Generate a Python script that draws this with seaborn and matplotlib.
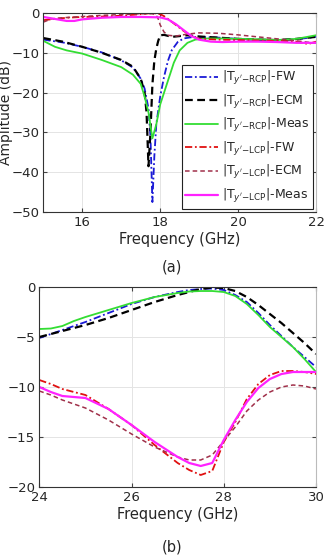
import matplotlib
matplotlib.use('Agg')
import matplotlib.pyplot as plt
import seaborn as sns
import pandas as pd

# ---- panel (a): 15-22 GHz ----
f_a_rcp_fw = [15, 15.5, 16, 16.5, 17, 17.3, 17.5, 17.6, 17.7, 17.75, 17.8, 17.85, 17.9, 18.0,
              18.1, 18.2, 18.3, 18.45, 18.6, 18.8, 19, 19.5, 20, 20.5, 21, 21.5, 22]
a_rcp_fw = [-6.7, -7.4, -8.5, -9.9, -11.9, -13.7, -16.5, -19, -24, -31, -47.5, -36, -28, -21,
            -16, -12, -9.3, -7.3, -6.4, -6.1, -6.0, -6.2, -6.5, -6.7, -6.8, -6.6, -6.0]

f_a_rcp_ecm = [15, 15.5, 16, 16.5, 17, 17.3, 17.5, 17.6, 17.65, 17.7, 17.75, 17.8, 17.85, 17.9,
               17.95, 18.0, 18.1, 18.3, 18.5, 18.7, 19, 19.5, 20, 20.5, 21, 21.5, 22]
a_rcp_ecm = [-6.3, -7.2, -8.5, -10, -11.8, -13.5, -16.5, -20, -25, -38.5, -30, -18, -12, -9,
             -7, -5.6, -5.5, -6.0, -5.8, -5.6, -5.9, -6.2, -6.5, -6.7, -6.8, -6.5, -6.0]

f_a_rcp_meas = [15, 15.3, 15.6, 16, 16.5, 17, 17.3, 17.5, 17.6, 17.7, 17.8, 17.9, 18.0, 18.1,
                18.2, 18.35, 18.5, 18.7, 18.9, 19.2, 19.5, 20, 20.5, 21, 21.5, 22]
a_rcp_meas = [-7, -8.5, -9.4, -10.2, -11.8, -13.6, -15.5, -17.8, -21, -25, -31.5, -28, -23, -20,
              -17, -12.5, -9.4, -7.5, -6.7, -6.4, -6.4, -6.5, -6.6, -6.8, -6.5, -5.6]

f_a_lcp_fw = [15, 15.3, 15.6, 16, 16.5, 17, 17.5, 17.8, 18.0, 18.1, 18.2, 18.4, 18.6, 18.8,
              19, 19.5, 20, 20.5, 21, 21.5, 21.8, 22]
a_lcp_fw = [-1.8, -1.5, -1.2, -1.0, -0.9, -0.7, -0.3, 0.0, -0.3, -0.8, -1.5, -3.0, -4.5, -5.8,
            -6.5, -6.7, -6.8, -6.9, -7.0, -7.2, -7.8, -7.2]

f_a_lcp_ecm = [15, 15.2, 15.5, 16, 16.5, 17, 17.5, 17.8, 17.9, 17.95, 18.0, 18.1, 18.2, 18.4,
               18.7, 19, 19.5, 20, 20.5, 21, 21.5, 22]
a_lcp_ecm = [-2.3, -1.5, -1.2, -0.9, -0.6, -0.4, -0.2, -0.2, -0.6, -1.5, -3.0, -4.8, -5.6, -5.8,
             -5.3, -5.0, -5.1, -5.5, -6.0, -6.5, -7.0, -7.6]

f_a_lcp_meas = [15, 15.3, 15.6, 15.8, 16, 16.5, 17, 17.5, 18.0, 18.2, 18.4, 18.6, 18.8, 19.0,
                19.3, 19.6, 20, 20.5, 21, 21.5, 22]
a_lcp_meas = [-1.0, -1.5, -2.0, -2.0, -1.6, -1.2, -1.0, -1.0, -1.1, -1.6, -2.8, -4.3, -5.8, -6.7,
              -7.2, -7.3, -7.2, -7.2, -7.3, -7.5, -7.5]

# ---- panel (b): 24-30 GHz ----
f_b = [24, 24.25, 24.5, 24.75, 25, 25.5, 26, 26.5, 27, 27.25, 27.5, 27.75, 28, 28.25, 28.5,
       28.75, 29, 29.25, 29.5, 29.75, 30]
b_rcp_fw = [-5.1, -4.7, -4.3, -3.9, -3.5, -2.6, -1.7, -1.0, -0.5, -0.3, -0.2, -0.15, -0.3, -0.8,
            -1.5, -2.6, -3.8, -4.9, -6.0, -7.0, -8.0]
b_rcp_ecm = [-5.0, -4.7, -4.4, -4.1, -3.8, -3.1, -2.3, -1.5, -0.8, -0.5, -0.2, -0.05, -0.1, -0.4,
             -1.0, -1.8, -2.7, -3.6, -4.6, -5.6, -6.7]
b_rcp_meas = [-4.2, -4.15, -3.9, -3.4, -3.0, -2.3, -1.6, -1.0, -0.6, -0.45, -0.4, -0.4, -0.5, -0.9,
              -1.7, -2.8, -4.0, -5.0, -6.0, -7.2, -8.5]
b_lcp_fw = [-9.3, -9.7, -10.2, -10.5, -10.8, -12.2, -13.8, -15.8, -17.6, -18.3, -18.8, -18.4, -15.5,
            -13.5, -11.2, -9.7, -8.8, -8.4, -8.4, -8.5, -8.7]
b_lcp_ecm = [-10.4, -10.8, -11.3, -11.7, -12.1, -13.3, -14.7, -16.0, -17.0, -17.3, -17.3, -16.8,
             -15.4, -14.0, -12.4, -11.3, -10.5, -10.0, -9.8, -9.9, -10.2]
b_lcp_meas = [-10.0, -10.5, -10.9, -11.0, -11.1, -12.2, -13.8, -15.5, -17.0, -17.6, -17.9, -17.6,
              -15.3, -13.3, -11.5, -10.1, -9.2, -8.7, -8.5, -8.5, -8.5]

labels = [r"|T$_{y'\mathregular{-RCP}}$|-FW", r"|T$_{y'\mathregular{-RCP}}$|-ECM",
          r"|T$_{y'\mathregular{-RCP}}$|-Meas", r"|T$_{y'\mathregular{-LCP}}$|-FW",
          r"|T$_{y'\mathregular{-LCP}}$|-ECM", r"|T$_{y'\mathregular{-LCP}}$|-Meas"]

# style per series: colour, dash pattern, width
styles = [
    ('#1a1ad6', (4, 1.5, 1, 1.5), 1.3),
    ('black', (3.5, 2), 1.6),
    ('#33dd33', None, 1.3),
    ('#e01010', (4, 1.5, 1, 1.5), 1.3),
    ('#a0304a', (3, 2), 1.1),
    ('#ff22ff', None, 1.6),
]

sns.set_style('whitegrid')
plt.rcParams['font.family'] = ['DejaVu Sans']
plt.rcParams['mathtext.fontset'] = 'dejavusans'

fig = plt.figure(figsize=(3.29, 5.57), dpi=100)
ax1 = fig.add_axes([0.1316, 0.6194, 0.829, 0.3573])
ax2 = fig.add_axes([0.1195, 0.1257, 0.841, 0.359])

series_a = [(f_a_rcp_fw, a_rcp_fw), (f_a_rcp_ecm, a_rcp_ecm), (f_a_rcp_meas, a_rcp_meas),
            (f_a_lcp_fw, a_lcp_fw), (f_a_lcp_ecm, a_lcp_ecm), (f_a_lcp_meas, a_lcp_meas)]
series_b = [b_rcp_fw, b_rcp_ecm, b_rcp_meas, b_lcp_fw, b_lcp_ecm, b_lcp_meas]

for (fx, vy), lab, (c, d, lw) in zip(series_a, labels, styles):
    sns.lineplot(x=fx, y=vy, ax=ax1, color=c, lw=lw, label=lab, sort=False)
    if d is not None:
        ax1.lines[-1].set_dashes(d)

for vy, (c, d, lw) in zip(series_b, styles):
    sns.lineplot(x=f_b, y=vy, ax=ax2, color=c, lw=lw, sort=False)
    if d is not None:
        ax2.lines[-1].set_dashes(d)

ax1.set_xlim(15, 22)
ax1.set_ylim(-50, 0)
ax1.set_xticks([16, 18, 20, 22])
ax1.set_yticks([0, -10, -20, -30, -40, -50])
ax1.set_xlabel('Frequency (GHz)', fontsize=10.5, labelpad=2)
ax1.set_ylabel('Amplitude (dB)', fontsize=10)
ax1.yaxis.set_label_coords(-0.112, 0.5)

ax2.set_xlim(24, 30)
ax2.set_ylim(-20, 0)
ax2.set_xticks([24, 26, 28, 30])
ax2.set_yticks([0, -5, -10, -15, -20])
ax2.set_xlabel('Frequency (GHz)', fontsize=10.5, labelpad=2)
ax2.set_ylabel('')

for ax in (ax1, ax2):
    ax.grid(True, color='#e4e4e4', lw=0.7)
    ax.tick_params(direction='in', length=3, labelsize=9.5, pad=3, color='#444444',
                   top=True, right=True, left=True, bottom=True)
    for s in ax.spines.values():
        s.set_color('#333333')
        s.set_linewidth(0.8)
    ax.spines['right'].set_color('#bbbbbb')

leg = ax1.legend(loc='lower right', fontsize=9, frameon=True, fancybox=False,
                 handlelength=2.6, handletextpad=0.3, labelspacing=0.45,
                 borderpad=0.3, borderaxespad=0.25)
leg.get_frame().set_edgecolor('#222222')
leg.get_frame().set_linewidth(0.8)
leg.get_frame().set_alpha(1)

fig.text(0.522, 0.521, '(a)', ha='center', va='center', fontsize=10.5)
fig.text(0.522, 0.018, '(b)', ha='center', va='center', fontsize=10.5)

fig.savefig('out.png', dpi=100)
